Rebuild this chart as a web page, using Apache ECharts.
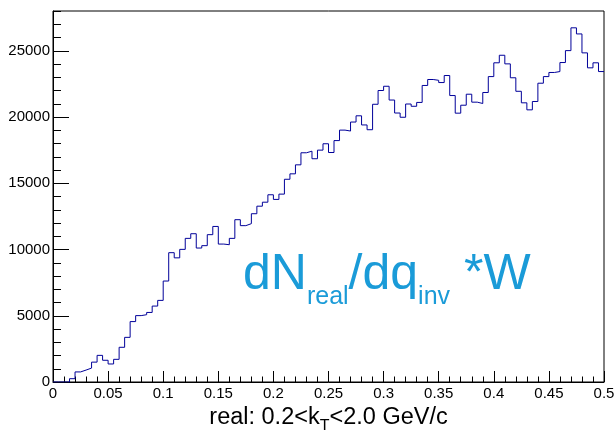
<!DOCTYPE html>
<html>
<head>
<meta charset="utf-8">
<script src="https://cdn.jsdelivr.net/npm/echarts@6/dist/echarts.min.js"></script>
<style>
html,body{margin:0;padding:0;background:#fff;}
#c{width:615px;height:430px;}
</style>
</head>
<body>
<div id="c"></div>
<script>
// Histogram binning
const xMin = 0;
const xMax = 0.5;
const nBins = 100;
// Bin contents
const counts = [
  0, 0, 0, 250, 760, 900, 1050, 1500, 2010, 1640,
  1360, 1710, 2620, 3370, 4560, 5010, 5080, 5250, 5730, 6160,
  7620, 9760, 9370, 10010, 10840, 11190, 10110, 10290, 11120, 11740,
  10410, 10360, 10840, 12250, 11800, 11950, 12700, 13270, 13570, 14130,
  13780, 14180, 15300, 15710, 16390, 17300, 17420, 16850, 17500, 17980,
  17320, 18220, 19010, 18940, 19620, 20090, 19400, 19040, 20960, 22000,
  22320, 21280, 20300, 19980, 20980, 20810, 21100, 22380, 22830, 22770,
  22600, 23130, 21620, 20290, 20890, 21720, 21120, 21020, 21850, 23050,
  24090, 24660, 24010, 22960, 21940, 21070, 20540, 21170, 22550, 23050,
  23360, 23430, 24110, 25010, 26730, 26270, 24840, 23710, 24090, 23430
];
const yTicks = [0, 5000, 10000, 15000, 20000, 25000];
const yMax = 28000;
const xTitle = '{a|real: 0.2<k}{s|T}{a|<2.0 GeV/c}';

const binW = (xMax - xMin) / nBins;
const stepData = counts.map((v, i) => [xMin + i * binW, v]);
stepData.push([xMax, counts[counts.length - 1]]);

const font = 'Liberation Sans, Arial, Helvetica, sans-serif';
const chart = echarts.init(document.getElementById('c'), null, {renderer: 'canvas'});
chart.setOption({
  animation: false,
  backgroundColor: '#fff',
  grid: {left: 53, right: 11, top: 11, bottom: 48, show: true, borderColor: '#000', borderWidth: 1, containLabel: false, outerBoundsMode: 'none'},
  xAxis: {
    type: 'value', min: xMin, max: xMax, interval: 0.05,
    axisLine: {show: true, onZero: false, lineStyle: {color: '#000', width: 1}},
    axisTick: {show: true, inside: true, length: 11, lineStyle: {color: '#000'}},
    minorTick: {show: true, splitNumber: 5, length: 5.5, lineStyle: {color: '#000'}},
    splitLine: {show: false},
    axisLabel: {color: '#000', fontFamily: font, fontSize: 15, margin: 4},
    name: xTitle, nameLocation: 'middle', nameGap: 16,
    nameTextStyle: {
      color: '#000', fontFamily: font,
      rich: {
        a: {fontSize: 23.5, fontFamily: font, color: '#000', verticalAlign: 'bottom', padding: [0, 0, 5, 0]},
        s: {fontSize: 16, fontFamily: font, color: '#000', verticalAlign: 'bottom'}
      }
    }
  },
  yAxis: [{
    type: 'value', min: 0, max: yMax, interval: 5000,
    axisLine: {show: true, lineStyle: {color: '#000', width: 1}},
    axisTick: {show: true, inside: true, length: 16, customValues: yTicks, lineStyle: {color: '#000'}},
    splitLine: {show: false},
    axisLabel: {color: '#000', fontFamily: font, fontSize: 15, margin: 3, customValues: yTicks,
      formatter: v => String(v)}
  }, {
    type: 'value', min: 0, max: yMax, interval: 1000, position: 'left',
    axisLine: {show: false},
    axisTick: {show: true, inside: true, length: 8, lineStyle: {color: '#000'}},
    splitLine: {show: false},
    axisLabel: {show: false}
  }],
  graphic: [{
    type: 'text', left: 243, top: 250,
    style: {
      text: '{b|dN}{s|real}{b|/dq}{s|inv}{b| *W}',
      rich: {
        b: {fontSize: 50, fontFamily: font, fill: '#1a9bd8', color: '#1a9bd8', verticalAlign: 'bottom', padding: [0, 0, 10, 0]},
        s: {fontSize: 25, fontFamily: font, fill: '#1a9bd8', color: '#1a9bd8', verticalAlign: 'bottom'}
      }
    }
  }],
  series: [{
    type: 'line', step: 'end', data: stepData, symbol: 'none',
    yAxisIndex: 0,
    lineStyle: {color: '#000099', width: 1},
    silent: true
  }]
});
</script>
</body>
</html>
